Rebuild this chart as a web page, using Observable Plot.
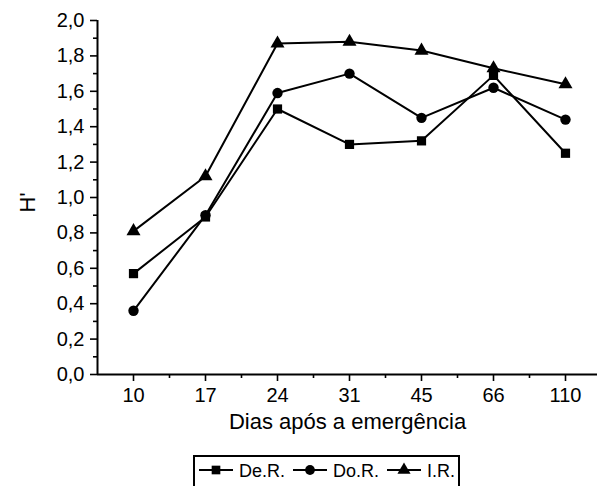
<!DOCTYPE html>
<html><head>
<meta charset="utf-8">
<script src="https://cdn.jsdelivr.net/npm/d3@7"></script>
<script src="https://cdn.jsdelivr.net/npm/@observablehq/plot@0.6"></script>
<style>
body{margin:0;background:#fff;font-family:"Liberation Sans",Arial,sans-serif;}
#wrap{position:relative;width:597px;height:486px;overflow:hidden;}
#legend{position:absolute;left:193px;top:455px;width:267px;height:40px;border:2px solid #000;box-sizing:border-box;}
#legend svg{position:absolute;left:0;top:0;overflow:visible;}
#legend span{position:absolute;font-size:18px;color:#000;line-height:20px;top:4px;white-space:nowrap;}
</style>
</head><body><div id="wrap"><div id="chart"></div><div id="legend"></div></div>
<script>
const days = ["10","17","24","31","45","66","110"];
const deR = [0.57,0.89,1.50,1.30,1.32,1.69,1.25];
const doR = [0.36,0.90,1.59,1.70,1.45,1.62,1.44];
const iR  = [0.81,1.12,1.87,1.88,1.83,1.73,1.64];
const seriesNames = ["De.R.","Do.R.","I.R."];
const seriesSymbols = ["square","circle","triangle"];
const yMajor = [0,0.2,0.4,0.6,0.8,1.0,1.2,1.4,1.6,1.8,2.0];
const yMinor = [0.1,0.3,0.5,0.7,0.9,1.1,1.3,1.5,1.7,1.9];

const allSeries = [deR, doR, iR];
const data = [];
allSeries.forEach((vals, s) => vals.forEach((v, i) => data.push({i, day: days[i], value: v, series: seriesNames[s]})));
const xIdx = days.map((d, i) => i);
const xMinor = days.slice(0, -1).map((d, i) => i + 0.5);

const plot = Plot.plot({
  width: 597,
  height: 452,
  marginLeft: 97,
  marginRight: 0,
  marginTop: 20,
  marginBottom: 78,
  style: {fontFamily: '"Liberation Sans", Arial, sans-serif', fontSize: "20px", color: "#000", background: "#fff"},
  x: {type: "linear", domain: [-0.5, 6.5], range: [97, 601]},
  y: {domain: [0, 2], range: [374, 20]},
  symbol: {domain: seriesNames, range: seriesSymbols},
  marks: [
    Plot.axisX(xIdx, {tickSize: 7, tickPadding: 6, strokeWidth: 1.6, tickFormat: i => days[i], fontSize: 20, label: null}),
    Plot.axisX(xMinor, {tickSize: 4, strokeWidth: 1.6, text: null, label: null}),
    Plot.axisY(yMajor, {tickSize: 7, tickPadding: 6, strokeWidth: 1.6, tickFormat: d => d.toFixed(1).replace(".", ","), fontSize: 20, label: null}),
    Plot.axisY(yMinor, {tickSize: 4, strokeWidth: 1.6, text: null, label: null}),
    Plot.text(["Dias após a emergência"], {frameAnchor: "bottom", dy: 39, fontSize: 22, lineAnchor: "top"}),
    Plot.text(["H'"], {frameAnchor: "left", dx: -70, dy: 15, rotate: -90, fontSize: 22}),
    Plot.ruleX([-0.5], {strokeWidth: 2}),
    Plot.ruleY([0], {strokeWidth: 2}),
    Plot.line(data, {x: "i", y: "value", z: "series", stroke: "#000", strokeWidth: 2}),
    Plot.dot(data, {x: "i", y: "value", symbol: "series", fill: "#000", stroke: "none", r: 5.2})
  ]
});
document.getElementById("chart").appendChild(plot);

// legend (positions relative to legend box padding edge at x=195)
const legend = document.getElementById("legend");
const sym = {square: d3.symbolSquare, circle: d3.symbolCircle, triangle: d3.symbolTriangle};
const lineStarts = [4, 98, 192];
const lineLen = 34;
const textStarts = [44, 138, 232];
let svgContent = "";
seriesNames.forEach((name, k) => {
  const x0 = lineStarts[k], cx = x0 + lineLen / 2;
  const path = d3.symbol(sym[seriesSymbols[k]], 75)();
  svgContent += `<line x1="${x0}" x2="${x0 + lineLen}" y1="13" y2="13" stroke="#000" stroke-width="2"/><path d="${path}" transform="translate(${cx},13)" fill="#000"/>`;
  const sp = document.createElement("span");
  sp.textContent = name;
  sp.style.left = textStarts[k] + "px";
  legend.appendChild(sp);
});
const svgEl = document.createElementNS("http://www.w3.org/2000/svg", "svg");
svgEl.setAttribute("width", "267");
svgEl.setAttribute("height", "40");
svgEl.innerHTML = svgContent;
legend.appendChild(svgEl);
</script>
</body></html>
